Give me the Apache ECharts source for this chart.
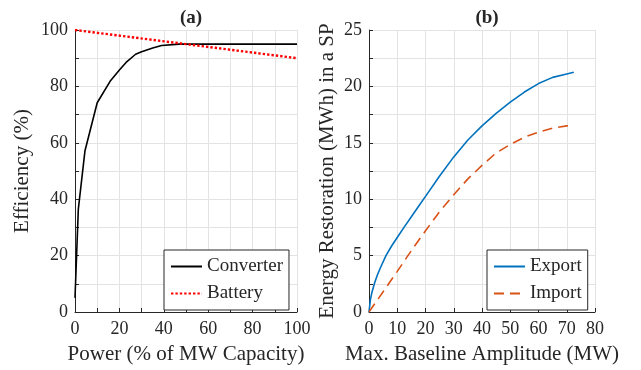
<!DOCTYPE html>
<html>
<head>
<meta charset="utf-8">
<script src="https://cdn.jsdelivr.net/npm/echarts@6/dist/echarts.min.js"></script>
<style>
  html, body { margin: 0; padding: 0; background: #fff; }
  #chart { width: 641px; height: 370px; }
</style>
</head>
<body>
<div id="chart"></div>
<script>
// (a) Converter and battery efficiency vs. power
const powerPct     = [0, 1.5, 4.5, 10, 15.8, 20, 23, 27.3, 30, 35, 39, 47, 100];
const converterEff = [5, 36.5, 57.2, 74.2, 81.8, 85.8, 88.5, 91.4, 92.3, 93.6, 94.5, 95, 95];
const batteryPct   = [0, 100];
const batteryEff   = [100, 90];

// (b) Energy restoration in a settlement period vs. baseline amplitude
const exportAmp = [0, 0.5, 1, 2, 3, 4, 6, 8, 10, 12.5, 15, 17.5, 20, 25, 30, 35, 40, 45, 50, 55, 60, 65, 70, 72.5];
const exportMWh = [0, 1.1, 1.7, 2.6, 3.3, 3.9, 5.0, 5.85, 6.6, 7.55, 8.45, 9.35, 10.25, 12.05, 13.75, 15.25, 16.5, 17.6, 18.6, 19.5, 20.25, 20.8, 21.1, 21.25];
const importAmp = [0, 5, 10, 15, 20, 25, 30, 35, 40, 45, 50, 55, 60, 65, 70, 72.5];
const importMWh = [0, 1.8, 3.6, 5.45, 7.2, 8.9, 10.4, 11.8, 13.0, 14.1, 14.85, 15.5, 15.95, 16.3, 16.5, 16.58];

const FONT = 'Liberation Serif';
const INK = '#262626';

function pairs(xs, ys) { return xs.map((x, i) => [x, ys[i]]); }

function valueAxis(opt) {
  return Object.assign({
    type: 'value',
    nameLocation: 'middle',
    nameTextStyle: { fontFamily: FONT, fontSize: 21, color: INK },
    axisLine: { show: true, onZero: false, lineStyle: { color: INK, width: 1 } },
    axisTick: { show: true, inside: true, length: 4, lineStyle: { color: INK } },
    axisLabel: { fontFamily: FONT, fontSize: 18, color: INK, margin: 7 },
    splitLine: { show: true, lineStyle: { color: '#e3e3e3', width: 1 } }
  }, opt);
}

function legendBox(names, left) {
  return {
    data: names,
    orient: 'vertical', left: left, top: 250,
    itemWidth: 31, itemHeight: 14, itemGap: 8,
    padding: [7, 6, 7, 6],
    backgroundColor: '#fff', borderColor: INK, borderWidth: 1,
    itemStyle: { color: 'transparent', borderWidth: 0, opacity: 0 },
    textStyle: { fontFamily: FONT, fontSize: 19, color: INK }
  };
}

const chart = echarts.init(document.getElementById('chart'), null, { renderer: 'canvas' });

chart.setOption({
  animation: false,
  backgroundColor: '#fff',
  title: [
    { text: '(a)', left: 186, top: 4, textAlign: 'center',
      textStyle: { fontFamily: FONT, fontSize: 19, fontWeight: 'bold', color: INK } },
    { text: '(b)', left: 482, top: 4, textAlign: 'center',
      textStyle: { fontFamily: FONT, fontSize: 19, fontWeight: 'bold', color: INK } }
  ],
  grid: [
    { left: 75, top: 30, width: 222, height: 284 },
    { left: 369, top: 30, width: 226, height: 284 }
  ],
  xAxis: [
    valueAxis({
      gridIndex: 0, min: 0, max: 100, interval: 10,
      name: 'Power (% of MW Capacity)', nameGap: 32,
      axisLabel: { fontFamily: FONT, fontSize: 18, color: INK, margin: 8,
        formatter: v => (v % 20 === 0 ? String(v) : '') }
    }),
    valueAxis({
      gridIndex: 1, min: 0, max: 80, interval: 10,
      name: 'Max. Baseline Amplitude (MW)', nameGap: 32,
      axisLabel: { fontFamily: FONT, fontSize: 18, color: INK, margin: 8 }
    })
  ],
  yAxis: [
    valueAxis({
      gridIndex: 0, min: 0, max: 100, interval: 10,
      name: 'Efficiency (%)', nameGap: 42,
      axisLabel: { fontFamily: FONT, fontSize: 18, color: INK, margin: 7,
        formatter: v => (v % 20 === 0 ? String(v) : '') }
    }),
    valueAxis({
      gridIndex: 1, min: 0, max: 25, interval: 2.5,
      name: 'Energy Restoration (MWh) in a SP', nameGap: 31,
      axisLabel: { fontFamily: FONT, fontSize: 18, color: INK, margin: 7,
        formatter: v => (v % 5 === 0 ? String(v) : '') }
    })
  ],
  legend: [
    legendBox(['Converter', 'Battery'], 164),
    legendBox(['Export', 'Import'], 487)
  ],
  series: [
    {
      name: 'Converter', type: 'line', xAxisIndex: 0, yAxisIndex: 0,
      data: pairs(powerPct, converterEff), symbol: 'none',
      lineStyle: { color: '#000', width: 1.6 }, itemStyle: { color: '#000' }
    },
    {
      name: 'Battery', type: 'line', xAxisIndex: 0, yAxisIndex: 0,
      data: pairs(batteryPct, batteryEff), symbol: 'none',
      lineStyle: { color: '#ff0000', width: 2.4, type: [2.4, 2] }, itemStyle: { color: '#ff0000' }
    },
    {
      name: 'Export', type: 'line', xAxisIndex: 1, yAxisIndex: 1,
      data: pairs(exportAmp, exportMWh), symbol: 'none',
      lineStyle: { color: '#0072BD', width: 1.6 }, itemStyle: { color: '#0072BD' }
    },
    {
      name: 'Import', type: 'line', xAxisIndex: 1, yAxisIndex: 1,
      data: pairs(importAmp, importMWh), symbol: 'none',
      lineStyle: { color: '#D95319', width: 1.6, type: [10, 6] }, itemStyle: { color: '#D95319' }
    }
  ]
});
</script>
</body>
</html>
